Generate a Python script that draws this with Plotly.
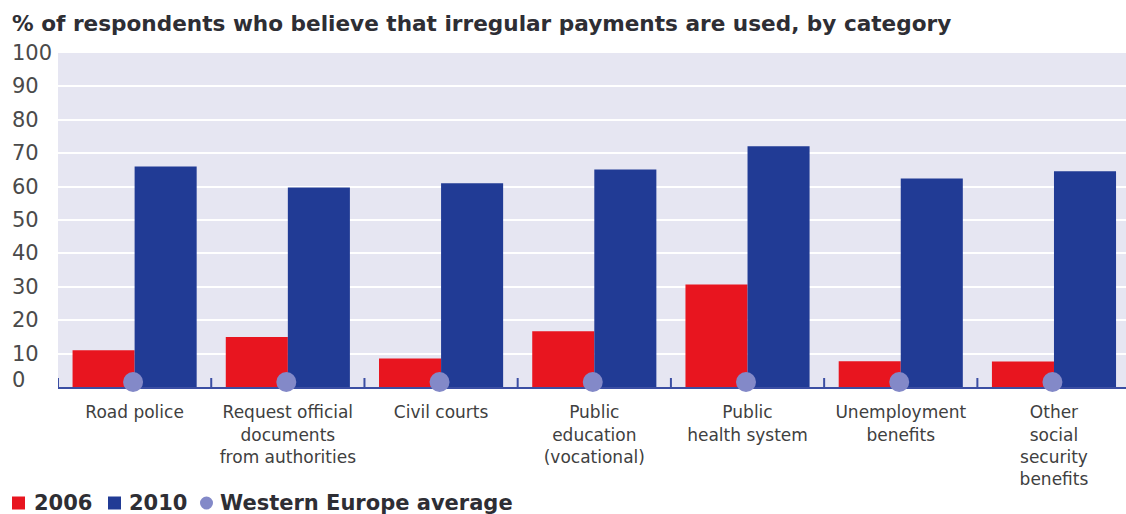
import plotly.graph_objects as go

# Survey categories (line breaks as printed under the axis)
categories = [
    "Road police",
    "Request official<br>documents<br>from authorities",
    "Civil courts",
    "Public<br>education<br>(vocational)",
    "Public<br>health system",
    "Unemployment<br>benefits",
    "Other<br>social<br>security<br>benefits",
]

# % of respondents who believe irregular payments are used
values_2006 = [11, 15, 8.5, 16.7, 30.7, 7.7, 7.6]
values_2010 = [66, 59.7, 61, 65.1, 72.1, 62.4, 64.6]
western_europe_avg = [1.5, 1.5, 1.5, 1.5, 1.5, 1.5, 1.5]

y_ticks = [0, 10, 20, 30, 40, 50, 60, 70, 80, 90, 100]

RED = "#e8151f"
BLUE = "#213b95"
DOT = "#8389c8"
BG = "#e6e6f2"
AXIS = "#3b4ea3"
FONT = "DejaVu Sans"

# plot area geometry in pixels (used for the legend row placement)
L, T, W, H = 58, 53, 1068, 334


def px_x(p):
    return (p - L) / W


def px_y(p):
    return (T + H - p) / H


x_idx = list(range(len(categories)))

fig = go.Figure()
fig.add_trace(go.Bar(x=x_idx, y=values_2006, name="2006", marker=dict(color=RED, line_width=0)))
fig.add_trace(go.Bar(x=x_idx, y=values_2010, name="2010", marker=dict(color=BLUE, line_width=0)))
fig.add_trace(go.Scatter(
    x=[i - 0.01 for i in x_idx], y=western_europe_avg, name="Western Europe average",
    mode="markers", marker=dict(color=DOT, size=20, line_width=0),
    cliponaxis=False,
))

# Left-aligned value labels for the y axis (the zero label sits just above the axis line)
annotations = [
    dict(x=px_x(10), y=v, xref="paper", yref="y", text=str(v), showarrow=False,
         xanchor="left", yanchor="middle", yshift=7 if v == 0 else 0,
         font=dict(family=FONT, size=21, color="#4a4a4a"))
    for v in y_ticks
]
annotations.append(dict(
    x=px_x(10), y=px_y(23), xref="paper", yref="paper", xanchor="left", yanchor="middle",
    text="<b>% of respondents who believe that irregular payments are used, by category</b>",
    showarrow=False, font=dict(family=FONT, size=21.6, color="#2e2e34"),
))

# Legend row: swatch + label pairs
legend_y = px_y(503)
legend_items = [
    ("rect", RED, 12, "2006", 32),
    ("rect", BLUE, 108, "2010", 127),
    ("circle", DOT, 200, "Western Europe average", 218),
]
shapes = []
for kind, color, sx, label, tx in legend_items:
    shapes.append(dict(type=kind, xref="paper", yref="paper",
                       x0=px_x(sx), x1=px_x(sx + 13), y0=px_y(509.5), y1=px_y(496.5),
                       fillcolor=color, line_width=0, layer="above"))
    annotations.append(dict(x=px_x(tx), y=legend_y, xref="paper", yref="paper",
                            xanchor="left", yanchor="middle", showarrow=False,
                            text=f"<b>{label}</b>",
                            font=dict(family=FONT, size=21, color="#2e2e34")))

# Small upward tick marks at the category boundaries
for i in x_idx:
    shapes.append(dict(type="line", xref="x", yref="paper", x0=i - 0.5, x1=i - 0.5,
                       y0=0, y1=0.027, line=dict(color=AXIS, width=2), layer="below"))

fig.update_layout(
    width=1126, height=514,
    margin=dict(l=L, r=1126 - L - W, t=T, b=514 - T - H, autoexpand=False),
    paper_bgcolor="white", plot_bgcolor=BG,
    barmode="group", bargap=0.19, bargroupgap=0,
    font=dict(family=FONT, color="#3a3a3a"),
    annotations=annotations,
    shapes=shapes,
    showlegend=False,
)

fig.update_xaxes(
    tickmode="array", tickvals=x_idx, ticktext=categories,
    range=[-0.5, 6.47],
    showgrid=False, zeroline=False,
    showline=True, linecolor=AXIS, linewidth=2,
    ticks="", ticklabelstandoff=9,
    tickfont=dict(family=FONT, size=17, color="#404040"),
    layer="below traces",
)
fig.update_yaxes(
    range=[0, 100], tickmode="array", tickvals=y_ticks[1:-1],
    showticklabels=False, showgrid=True, gridcolor="white", gridwidth=2,
    zeroline=False, showline=False, ticks="",
)

fig.write_html("out.html")
